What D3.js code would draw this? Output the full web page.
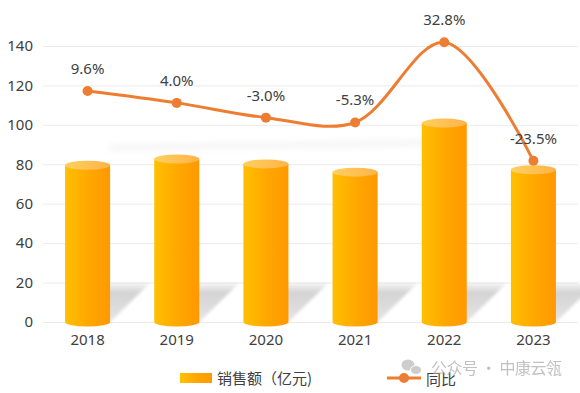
<!DOCTYPE html>
<html><head><meta charset="utf-8">
<script src="https://cdn.jsdelivr.net/npm/d3@7"></script>
<style>
html,body{margin:0;padding:0;background:#fff;}
svg{display:block;}
</style>
</head><body>
<svg id="chart" width="580" height="393"></svg>
<script>
const years = ["2018","2019","2020","2021","2022","2023"];
const sales = [79.5, 82.7, 80.2, 76.0, 100.9, 77.2];
const growth = [9.6, 4.0, -3.0, -5.3, 32.8, -23.5];
const growthLabels = ["9.6%","4.0%","-3.0%","-5.3%","32.8%","-23.5%"];
const yTicks = [0,20,40,60,80,100,120,140];
const legendBar = "销售额（亿元)";
const legendLine = "同比";
const watermark = "公众号 · 中康云瓴";

const svg = d3.select("#chart");
const numFont = "'Noto Sans', 'Liberation Sans', sans-serif";
const cjkFont = "'Noto Sans CJK SC', 'Noto Sans', sans-serif";

const x = d3.scaleBand().domain(years).range([43, 578]).paddingInner(0.495).paddingOuter(0.2475);
const y = d3.scaleLinear().domain([0, 140]).range([322, 46]);
const y2 = d3.scaleLinear().domain([-100, 31]).range([322, 46]);

const defs = svg.append("defs");
const bg = defs.append("linearGradient").attr("id","barGrad").attr("x1","0").attr("x2","1").attr("y1","0").attr("y2","0");
bg.append("stop").attr("offset","0").attr("stop-color","#FFC000");
bg.append("stop").attr("offset","0.55").attr("stop-color","#FFA600");
bg.append("stop").attr("offset","1").attr("stop-color","#FF9900");
const tg = defs.append("linearGradient").attr("id","topGrad").attr("x1","0").attr("x2","1").attr("y1","0").attr("y2","0");
tg.append("stop").attr("offset","0").attr("stop-color","#FFD060");
tg.append("stop").attr("offset","1").attr("stop-color","#FFB347");
const sg = defs.append("linearGradient").attr("id","shGrad").attr("x1","0").attr("x2","0").attr("y1","0").attr("y2","1");
sg.append("stop").attr("offset","0").attr("stop-color","#000").attr("stop-opacity","0.04");
sg.append("stop").attr("offset","0.25").attr("stop-color","#000").attr("stop-opacity","0.17");
sg.append("stop").attr("offset","1").attr("stop-color","#000").attr("stop-opacity","0.1");
defs.append("filter").attr("id","blur2").attr("x","-20%").attr("y","-20%").attr("width","140%").attr("height","140%")
  .append("feGaussianBlur").attr("stdDeviation","1.5");
defs.append("filter").attr("id","blur4").attr("x","-20%").attr("y","-200%").attr("width","140%").attr("height","500%")
  .append("feGaussianBlur").attr("stdDeviation","3");

// gridlines
const yAxis = d3.axisLeft(y).tickValues(yTicks).tickSize(-535).tickPadding(10);
const gy = svg.append("g").attr("transform","translate(43,0)").call(yAxis);
gy.select(".domain").remove();
gy.selectAll(".tick line").attr("stroke","#EBEBEB").attr("stroke-width",1);
gy.selectAll(".tick text").attr("fill","#404040").attr("font-size","15px").attr("font-family",numFont).attr("x",-10);

// faint line shadow
const bw = x.bandwidth();
svg.append("path")
  .attr("d", d3.line().curve(d3.curveCardinal.tension(0))([[110,148],[200,146],[300,145],[360,144],[440,142]]))
  .attr("fill","none").attr("stroke","#000").attr("stroke-opacity",0.05).attr("stroke-width",5).attr("filter","url(#blur4)");

// bar shadows
svg.append("g").selectAll("path").data(years).join("path")
  .attr("d", d => {
    const x0 = x(d), x1 = x(d) + bw, b = y(0), t = y(0) - 39, off = 40;
    return `M${x0+5},${b} L${x1},${b} L${x1+off},${t} L${x0+off},${t} Z`;
  })
  .attr("fill","url(#shGrad)").attr("filter","url(#blur2)");

// bars (cylinders)
const ry = 4.5;
const bars = svg.append("g").selectAll("g").data(years).join("g");
bars.append("path")
  .attr("d", (d,i) => {
    const x0 = x(d), x1 = x(d) + bw, top = y(sales[i]), b = y(0);
    return `M${x0},${top} L${x0},${b} A${bw/2},${ry} 0 0 0 ${x1},${b} L${x1},${top} Z`;
  })
  .attr("fill","url(#barGrad)");
bars.append("ellipse")
  .attr("cx", d => x(d) + bw/2).attr("cy", (d,i) => y(sales[i]))
  .attr("rx", bw/2).attr("ry", ry).attr("fill","url(#topGrad)");

// x axis labels
const xAxis = d3.axisBottom(x).tickSize(0).tickPadding(12);
const gx = svg.append("g").attr("transform","translate(0,322)").call(xAxis);
gx.select(".domain").remove();
gx.selectAll(".tick text").attr("fill","#404040").attr("font-size","15px").attr("font-family",numFont);

// line
const pts = years.map((d,i) => [x(d) + bw/2, y2(growth[i])]);
svg.append("path")
  .attr("d", d3.line().curve(d3.curveCatmullRom.alpha(0.5))(pts))
  .attr("fill","none").attr("stroke","#ED7D31").attr("stroke-width",3).attr("stroke-linecap","round");
svg.append("g").selectAll("circle").data(pts).join("circle")
  .attr("cx", d => d[0]).attr("cy", d => d[1]).attr("r", 5).attr("fill","#ED7D31");
svg.append("g").selectAll("text").data(pts).join("text")
  .attr("x", d => d[0]).attr("y", d => d[1] - 17)
  .attr("text-anchor","middle").attr("fill","#404040").attr("font-size","15px").attr("font-family",numFont)
  .text((d,i) => growthLabels[i]);

// legend
svg.append("rect").attr("x",180).attr("y",373).attr("width",32).attr("height",10).attr("fill","url(#barGrad)");
svg.append("text").attr("x",217).attr("y",384).attr("fill","#404040").attr("font-size","15px").attr("font-family",cjkFont).text(legendBar);
svg.append("line").attr("x1",387).attr("x2",421).attr("y1",378).attr("y2",378).attr("stroke","#ED7D31").attr("stroke-width",3);
svg.append("circle").attr("cx",404).attr("cy",378).attr("r",5).attr("fill","#ED7D31");
svg.append("text").attr("x",426).attr("y",385).attr("fill","#404040").attr("font-size","15px").attr("font-family",cjkFont).text(legendLine);

// watermark (semi-transparent overlay, as in the source image)
const wm = svg.append("g").attr("opacity",0.7);
wm.append("ellipse").attr("cx",408).attr("cy",365).attr("rx",6.5).attr("ry",5.5).attr("fill","#b8b8b8");
wm.append("ellipse").attr("cx",416).attr("cy",370).attr("rx",5.5).attr("ry",4.5).attr("fill","#b8b8b8").attr("stroke","#fff").attr("stroke-width",1);
wm.append("text").attr("x",431).attr("y",374).attr("fill","#a8a8a8").attr("font-size","16px").attr("font-family",cjkFont)
  .attr("textLength",131).text(watermark);
</script>
</body></html>
